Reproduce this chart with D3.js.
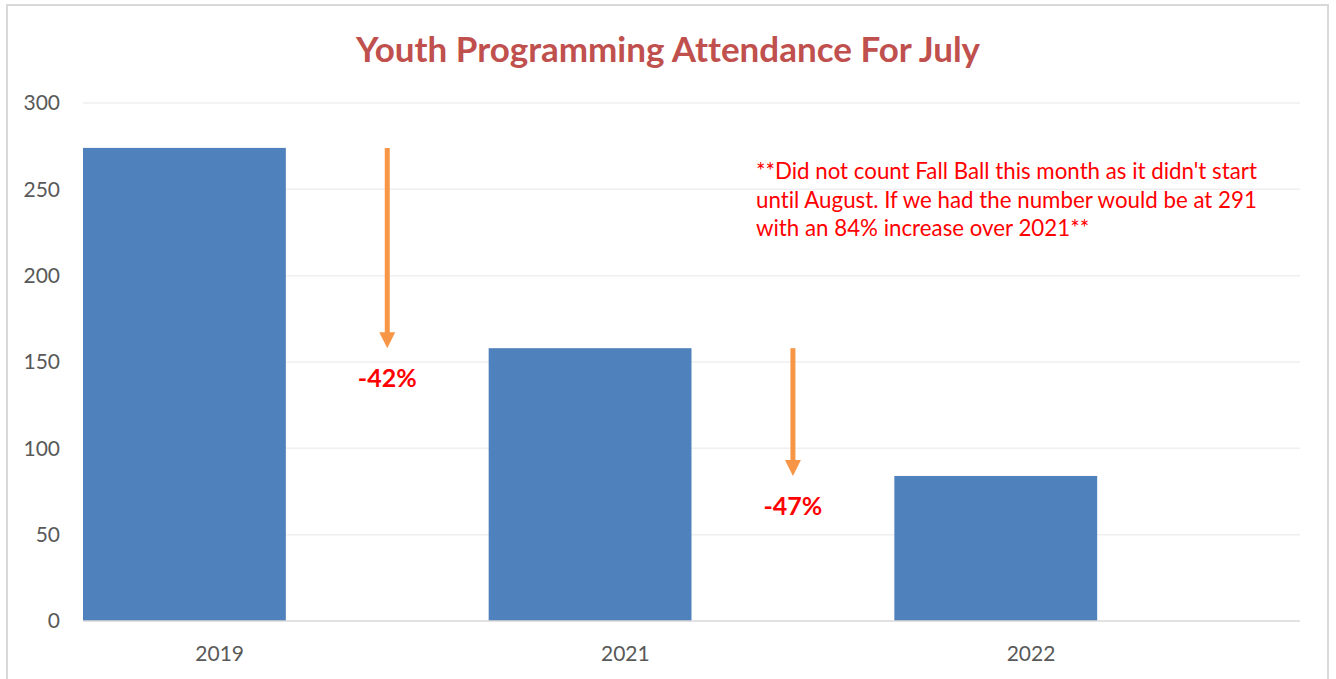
<!DOCTYPE html>
<html>
<head>
<meta charset="utf-8">
<script src="https://cdn.jsdelivr.net/npm/d3@7"></script>
<style>
  html, body { margin: 0; padding: 0; background: #fff; }
  svg { display: block; font-family: Lato, "Open Sans", sans-serif; font-variant-ligatures: none; }
</style>
</head>
<body>
<svg id="chart" width="1336" height="679"></svg>
<script>
// Youth programming attendance, July of each year
const years = ["2019", "2021", "2022"];
const attendance = [274, 158, 84];
const yTicks = [0, 50, 100, 150, 200, 250, 300];
const changeLabels = ["-42%", "-47%"];
const noteLines = [
  "**Did not count Fall Ball this month as it didn't start",
  "until August. If we had the number would be at 291",
  "with an 84% increase over 2021**"
];
const titleText = "Youth Programming Attendance For July";

const svg = d3.select("#chart");
const margin = { left: 83, right: 36, top: 103, bottom: 58 };
const W = 1336, H = 679;

// outer frame
svg.append("rect")
  .attr("x", 7).attr("y", 5)
  .attr("width", 1321).attr("height", 690)
  .attr("fill", "#fff")
  .attr("stroke", "#d9d9d9").attr("stroke-width", 2);

const x = d3.scaleBand()
  .domain(years)
  .range([margin.left, W - margin.right])
  .padding(0);

const y = d3.scaleLinear()
  .domain([0, 300])
  .range([H - margin.bottom, margin.top]);

// horizontal gridlines
svg.append("g")
  .selectAll("line")
  .data(yTicks.filter(d => d > 0))
  .join("line")
  .attr("x1", margin.left).attr("x2", W - margin.right)
  .attr("y1", d => y(d)).attr("y2", d => y(d))
  .attr("stroke", "#efefef").attr("stroke-width", 1.5);

// y axis labels
const yAxis = d3.axisLeft(y).tickValues(yTicks).tickSize(0).tickPadding(0);
const gy = svg.append("g")
  .attr("transform", `translate(${margin.left - 23},0)`)
  .call(yAxis);
gy.select(".domain").remove();
gy.selectAll("text")
  .attr("fill", "#595959")
  .style("font-size", "21px")
  .style("font-family", "Lato, sans-serif");

// bars: each fills the left half of its band
svg.append("g")
  .selectAll("rect")
  .data(years.map((k, i) => ({ k, v: attendance[i] })))
  .join("rect")
  .attr("x", d => x(d.k))
  .attr("y", d => y(d.v))
  .attr("width", x.bandwidth() / 2)
  .attr("height", d => y(0) - y(d.v))
  .attr("fill", "#4f81bd");

// baseline
svg.append("line")
  .attr("x1", margin.left).attr("x2", W - margin.right)
  .attr("y1", y(0)).attr("y2", y(0))
  .attr("stroke", "#d9d9d9").attr("stroke-width", 1.5);

// category labels
svg.append("g")
  .selectAll("text")
  .data(years)
  .join("text")
  .attr("x", d => x(d) + x.bandwidth() * 0.337)
  .attr("y", y(0) + 40)
  .attr("text-anchor", "middle")
  .attr("fill", "#595959")
  .style("font-size", "21px")
  .text(d => d);

// title
svg.append("text")
  .attr("x", 668).attr("y", 62)
  .attr("text-anchor", "middle")
  .attr("fill", "#c0504d")
  .style("font-size", "35px")
  .style("font-weight", 700)
  .text(titleText);

// year-over-year drop arrows between bars
const arrowColor = "#f79646";
const drops = changeLabels.map((lab, i) => ({
  lab,
  from: attendance[i],
  to: attendance[i + 1],
  cx: x(years[i]) + x.bandwidth() * 0.75
}));

const ag = svg.append("g");
drops.forEach(d => {
  const y0 = y(d.from), y1 = y(d.to);
  const head = 16, half = 8;
  ag.append("line")
    .attr("x1", d.cx).attr("x2", d.cx)
    .attr("y1", y0).attr("y2", y1 - head + 1)
    .attr("stroke", arrowColor).attr("stroke-width", 5);
  ag.append("path")
    .attr("d", `M${d.cx - half},${y1 - head} L${d.cx + half},${y1 - head} L${d.cx},${y1} Z`)
    .attr("fill", arrowColor);
  ag.append("text")
    .attr("x", d.cx).attr("y", y1 + 39)
    .attr("text-anchor", "middle")
    .attr("fill", "#ff0000")
    .style("font-size", "25px")
    .style("font-weight", 700)
    .text(d.lab);
});

// explanatory note
const note = svg.append("text")
  .attr("x", 756).attr("y", 179)
  .attr("fill", "#ff0000")
  .style("font-size", "22.3px");
noteLines.forEach((t, i) => {
  note.append("tspan")
    .attr("x", 756)
    .attr("dy", i === 0 ? 0 : 28.5)
    .text(t);
});
</script>
</body>
</html>
